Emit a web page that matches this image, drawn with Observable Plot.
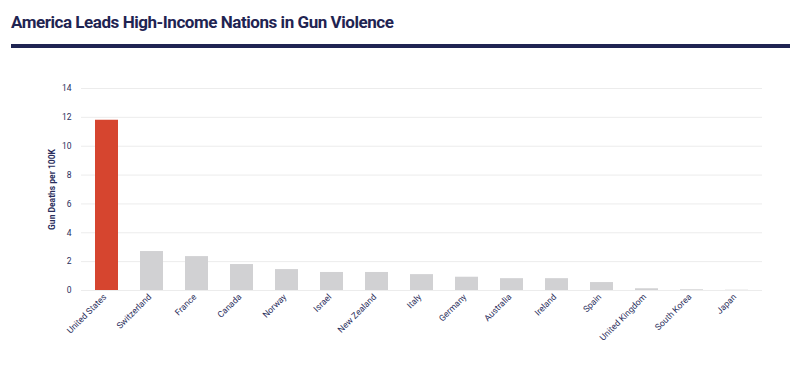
<!DOCTYPE html>
<html>
<head>
<meta charset="utf-8">
<script src="https://cdn.jsdelivr.net/npm/d3@7"></script>
<script src="https://cdn.jsdelivr.net/npm/@observablehq/plot@0.6"></script>
<style>
  html, body { margin: 0; padding: 0; background: #fff; }
  #wrap { width: 800px; height: 368px; overflow: hidden; position: relative; }
  #title {
    position: absolute; left: 11px; top: 12px;
    font: 700 17px Roboto, sans-serif; color: #1f2452; letter-spacing: -0.45px;
    white-space: nowrap;
  }
  #rule { position: absolute; left: 11px; top: 44px; width: 779px; height: 4px; background: #1f2452; }
  #chart { position: absolute; left: 0; top: 48px; }
  #chart svg { font-family: Roboto, sans-serif; }
  #chart [aria-label="y-axis label"] text { font-weight: 700; }
</style>
</head>
<body>
<div id="wrap">
  <div id="title">America Leads High-Income Nations in Gun Violence</div>
  <div id="rule"></div>
  <div id="chart"></div>
</div>
<script>
const countries = ["United States","Switzerland","France","Canada","Norway","Israel","New Zealand","Italy","Germany","Australia","Ireland","Spain","United Kingdom","South Korea","Japan"];
const deaths = [11.8, 2.7, 2.35, 1.8, 1.45, 1.25, 1.25, 1.1, 0.92, 0.82, 0.82, 0.55, 0.12, 0.05, 0.02];
const highlighted = ["United States"];
const yTicks = [0, 2, 4, 6, 8, 10, 12, 14];
const yLabel = "Gun Deaths per 100K";

const data = countries.map((c, i) => ({country: c, value: deaths[i]}));
const navy = "#2a2e5c";

const chart = Plot.plot({
  width: 800,
  height: 320,
  marginLeft: 81,
  marginRight: 38,
  marginTop: 40,
  marginBottom: 78,
  style: {fontFamily: "Roboto, sans-serif", color: navy, background: "#fff"},
  x: {domain: countries, paddingInner: 0.5, paddingOuter: 0.25, axis: null},
  y: {domain: [0, 14], axis: null},
  marks: [
    Plot.gridY(yTicks, {stroke: "#ececec", strokeOpacity: 1, strokeWidth: 1}),
    Plot.barY(data.filter(d => !highlighted.includes(d.country)), {x: "country", y: "value", fill: "#d1d1d3"}),
    Plot.barY(data.filter(d => highlighted.includes(d.country)), {x: "country", y: "value", fill: "#d6452f"}),
    Plot.axisY({ticks: yTicks, tickSize: 0, tickPadding: 10, fontSize: 8.5, fill: navy,
      label: yLabel, labelAnchor: "center", labelArrow: "none", labelOffset: 33}),
    Plot.axisX({tickSize: 0, tickPadding: 5, tickRotate: -45, fontSize: 8.7, fill: navy, label: null, dx: -2})
  ]
});
document.getElementById("chart").appendChild(chart);
</script>
</body>
</html>
